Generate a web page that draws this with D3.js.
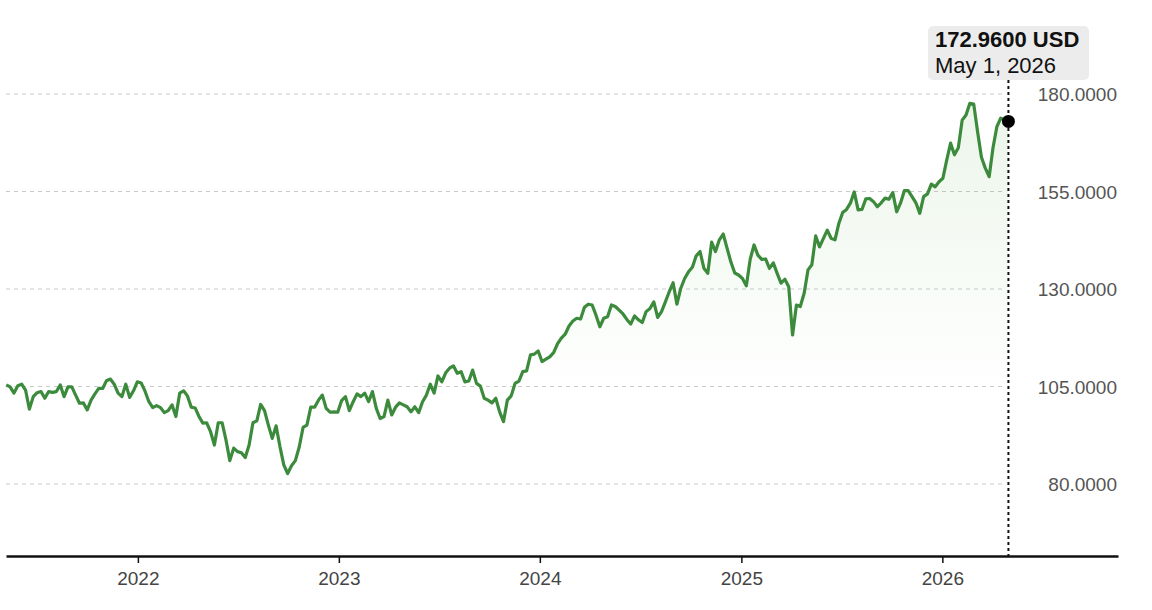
<!DOCTYPE html>
<html>
<head>
<meta charset="utf-8">
<script src="https://cdn.jsdelivr.net/npm/d3@7"></script>
<style>
  body { margin: 0; background: #fff; }
  svg { display: block; font-family: 'Liberation Sans', Arial, sans-serif; }
</style>
</head>
<body>
<svg width="1152" height="610"></svg>
<script>
// Weekly closing prices (USD), first week to last week:
var firstWeek = new Date(2021, 4, 7);
var lastWeek = new Date(2026, 4, 1);
var axisEnd = new Date(2026, 10, 16);

var prices = [
  105.4, 104.9, 103.3, 105.2, 105.6, 104.1, 99.2, 102.4, 103.4, 103.7,
  102.0, 103.7, 103.5, 103.7, 105.4, 102.4, 104.9, 104.9, 102.8, 100.7,
  100.8, 99.0, 101.5, 103.1, 104.5, 104.5, 106.5, 106.9, 105.6, 103.3,
  102.4, 105.6, 102.2, 103.9, 106.2, 105.9, 103.8, 101.1, 99.6, 100.1,
  99.6, 98.3, 98.8, 100.3, 97.3, 103.3, 103.9, 102.6, 99.7, 99.5,
  97.3, 95.6, 95.7, 93.4, 90.0, 95.7, 95.7, 91.3, 86.0, 89.2,
  88.3, 88.0, 86.8, 90.0, 95.7, 96.2, 100.4, 98.8, 95.1, 91.7,
  94.9, 89.6, 84.9, 82.7, 84.7, 86.0, 89.5, 94.5, 95.1, 99.7,
  99.7, 101.5, 102.8, 99.4, 98.4, 98.5, 98.4, 101.4, 102.4, 98.8,
  101.1, 103.1, 102.4, 103.3, 101.1, 103.7, 99.4, 96.8, 97.3, 101.5,
  97.7, 99.7, 100.8, 100.3, 99.8, 98.5, 99.8, 98.3, 101.1, 102.8,
  105.6, 103.3, 107.7, 106.2, 108.5, 109.7, 110.3, 108.4, 108.8, 106.2,
  106.4, 109.2, 105.8, 105.1, 102.0, 101.5, 100.8, 102.0, 98.5, 96.0,
  101.5, 102.6, 105.8, 106.4, 108.8, 109.0, 113.1, 113.3, 114.1, 111.4,
  112.0, 112.6, 113.7, 115.9, 117.4, 118.4, 120.5, 121.8, 122.5, 122.3,
  125.3, 126.1, 125.9, 123.3, 120.3, 122.5, 122.9, 125.9, 125.5, 124.6,
  123.6, 122.2, 121.0, 123.1, 122.1, 121.4, 124.2, 125.0, 126.7, 122.7,
  124.2, 126.7, 129.3, 131.6, 126.1, 130.2, 132.7, 134.4, 135.6, 138.5,
  139.6, 135.3, 134.0, 142.0, 139.6, 142.6, 144.1, 140.5, 136.9, 134.1,
  133.6, 132.7, 130.8, 137.6, 141.3, 138.7, 137.6, 137.7, 135.3, 136.7,
  134.0, 131.5, 132.5, 130.6, 118.2, 125.9, 125.5, 128.9, 134.9, 136.2,
  143.6, 140.8, 143.0, 145.1, 143.0, 142.6, 146.8, 149.6, 150.4, 152.0,
  154.9, 150.3, 150.4, 153.1, 153.2, 152.4, 151.1, 152.1, 153.3, 153.0,
  154.7, 149.8, 152.0, 155.2, 155.2, 153.7, 152.1, 149.4, 153.7, 154.4,
  156.9, 156.2, 157.5, 158.4, 163.1, 167.4, 164.4, 166.2, 173.3, 174.6,
  177.6, 177.4, 170.3, 163.8, 161.0, 158.8, 166.2, 171.6, 173.8, 173.4,
  172.96
];

// Tick labels on the right axis:
var priceTicks = [80, 105, 130, 155, 180];
var currency = 'USD';

// Select the SVG element:
var svg = d3.select('svg');

// Define the plot area:
var plot = {
  left: 6,
  right: 1118,
  bottom: 556,
  gridEnd: 1003,
  fadeEnd: 395
};

// Pair every week with its price:
var weeks = d3.timeFriday.range(firstWeek, d3.timeDay.offset(lastWeek, 1));
var data = weeks.map(function (d, i) {
  return { date: d, price: prices[i] };
});

// Define the scales:
var x = d3.scaleTime()
  .domain([d3.timeHour.offset(firstWeek, -12), axisEnd])
  .range([plot.left, plot.right]);

var y = d3.scaleLinear()
  .domain([80, 180])
  .range([484, 94]);

var fmtPrice = d3.format('.4f');
var fmtDate = d3.timeFormat('%b %-d, %Y');

// Gradient for the area under the line, gone by the middle of the chart:
var grad = svg.append('defs')
  .append('linearGradient')
  .attr('id', 'fade')
  .attr('gradientUnits', 'userSpaceOnUse')
  .attr('x1', 0).attr('x2', 0)
  .attr('y1', y(180)).attr('y2', plot.fadeEnd);

grad.append('stop').attr('offset', 0).attr('stop-color', '#5aae4a').attr('stop-opacity', 0.12);
grad.append('stop').attr('offset', 1).attr('stop-color', '#5aae4a').attr('stop-opacity', 0);

// Dashed grid lines:
svg.append('g')
  .selectAll('line')
  .data(priceTicks)
  .enter()
  .append('line')
  .attr('x1', plot.left)
  .attr('x2', plot.gridEnd)
  .attr('y1', function (d) { return y(d); })
  .attr('y2', function (d) { return y(d); })
  .attr('stroke', '#c9c9c9')
  .attr('stroke-width', 1)
  .attr('stroke-dasharray', '4,4');

// Price labels on the right:
svg.append('g')
  .selectAll('text')
  .data(priceTicks)
  .enter()
  .append('text')
  .attr('x', 1117)
  .attr('y', function (d) { return y(d) + 7; })
  .attr('text-anchor', 'end')
  .attr('fill', '#555')
  .style('font-size', '19px')
  .text(fmtPrice);

// Area under the line:
var area = d3.area()
  .x(function (d) { return x(d.date); })
  .y0(plot.bottom)
  .y1(function (d) { return y(d.price); });

svg.append('path')
  .datum(data)
  .attr('d', area)
  .attr('fill', 'url(#fade)');

// The price line:
var line = d3.line()
  .x(function (d) { return x(d.date); })
  .y(function (d) { return y(d.price); });

svg.append('path')
  .datum(data)
  .attr('d', line)
  .attr('fill', 'none')
  .attr('stroke', '#3c8b3c')
  .attr('stroke-width', 3.2)
  .attr('stroke-linejoin', 'round');

// X axis with a tick on every new year:
var xAxis = svg.append('g')
  .attr('transform', 'translate(0,' + plot.bottom + ')')
  .call(d3.axisBottom(x)
    .ticks(d3.timeYear.every(1))
    .tickFormat(d3.timeFormat('%Y'))
    .tickSize(7)
    .tickSizeOuter(0)
    .tickPadding(9));

xAxis.select('.domain').attr('stroke', '#111').attr('stroke-width', 2.5);
xAxis.selectAll('.tick line').attr('stroke', '#111').attr('stroke-width', 1.5);
xAxis.selectAll('.tick text')
  .attr('fill', '#444')
  .style('font-size', '19px')
  .style('font-family', "'Liberation Sans', Arial, sans-serif");

// Marker for the last close:
var last = data[data.length - 1];

svg.append('line')
  .attr('x1', x(last.date))
  .attr('x2', x(last.date))
  .attr('y1', 80)
  .attr('y2', plot.bottom)
  .attr('stroke', '#111')
  .attr('stroke-width', 2)
  .attr('stroke-dasharray', '3,3');

svg.append('circle')
  .attr('cx', x(last.date))
  .attr('cy', y(last.price))
  .attr('r', 6.5)
  .attr('fill', '#000');

// Tooltip box:
var tip = svg.append('g').attr('transform', 'translate(928,26)');

tip.append('rect')
  .attr('width', 161)
  .attr('height', 54)
  .attr('rx', 5)
  .attr('fill', '#ececec');

tip.append('text')
  .attr('x', 7)
  .attr('y', 21)
  .attr('fill', '#111')
  .style('font-size', '22px')
  .style('font-weight', 'bold')
  .text(fmtPrice(last.price) + ' ' + currency);

tip.append('text')
  .attr('x', 7)
  .attr('y', 47)
  .attr('fill', '#111')
  .style('font-size', '22px')
  .text(fmtDate(last.date));
</script>
</body>
</html>
